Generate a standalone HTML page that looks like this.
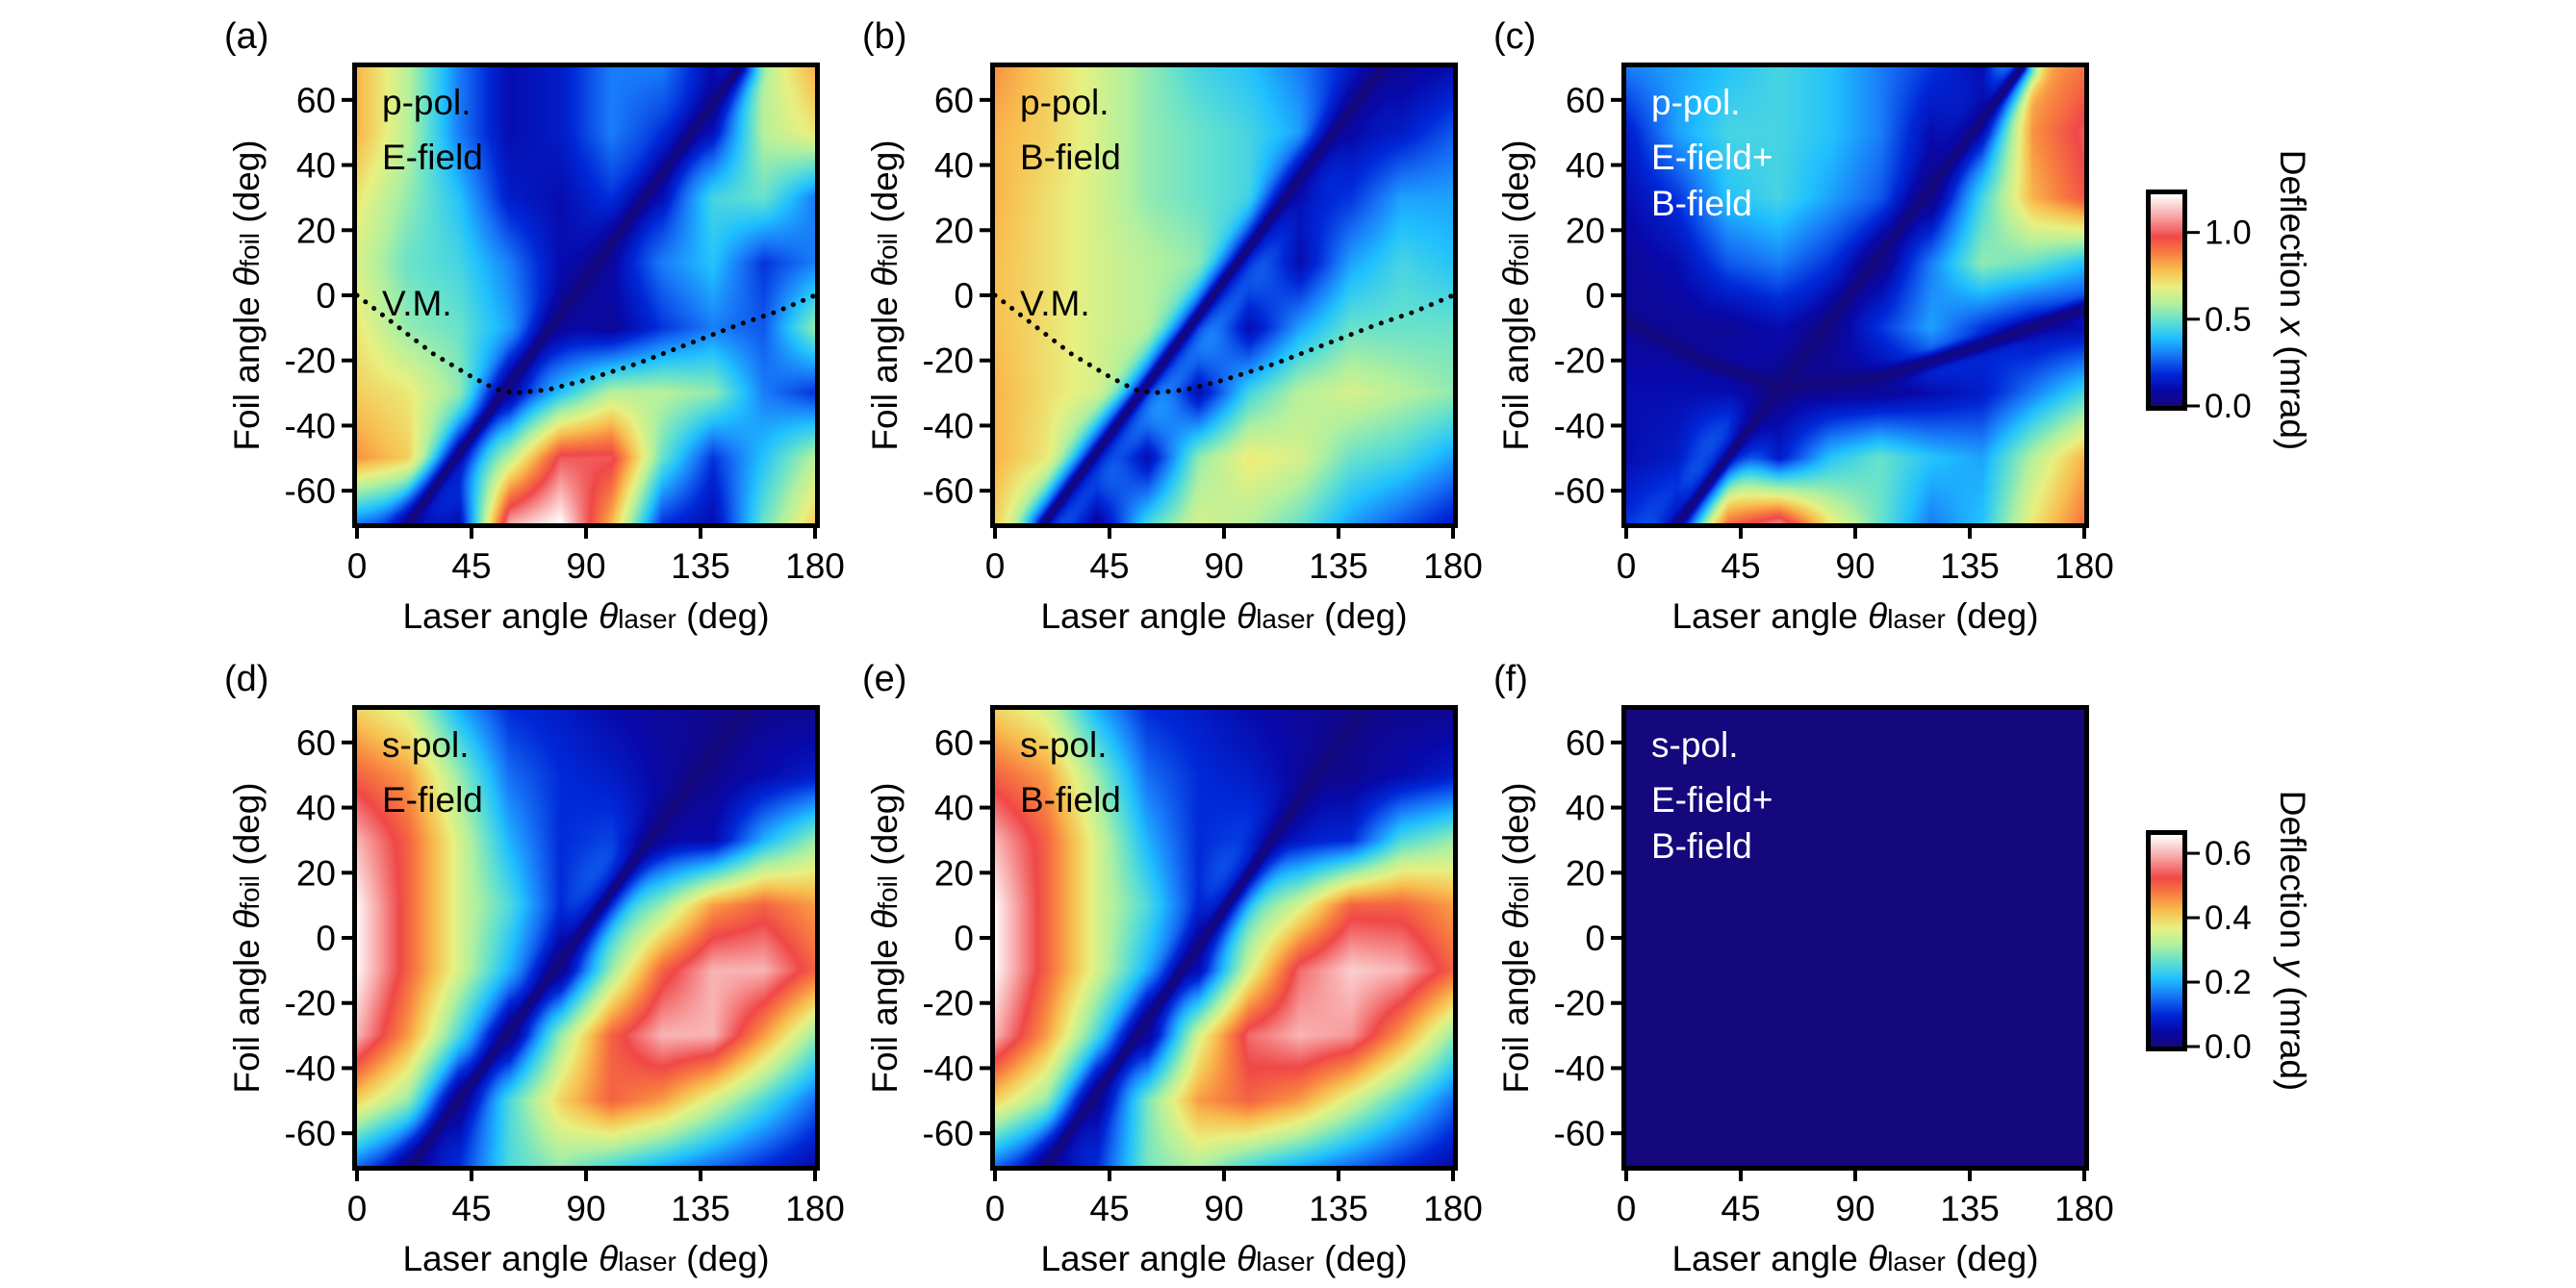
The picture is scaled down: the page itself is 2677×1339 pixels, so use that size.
<!DOCTYPE html>
<html><head><meta charset="utf-8">
<style>
html,body{margin:0;padding:0;background:#fff;}
#root{position:relative;width:2677px;height:1339px;overflow:hidden;background:#fff;font-family:"Liberation Sans",Arial,sans-serif;}
canvas{position:absolute;}
svg{position:absolute;left:0;top:0;}
</style></head>
<body>
<div id="root">
<canvas id="ca"></canvas>
<canvas id="cb"></canvas>
<canvas id="cc"></canvas>
<canvas id="cd"></canvas>
<canvas id="ce"></canvas>
<canvas id="cf"></canvas>
<canvas id="cbar1"></canvas>
<canvas id="cbar2"></canvas>
<svg id="ov" width="2677" height="1339"></svg>
</div>
<script>
// ---- data ----
const laserCats = [0,20,40,60,80,100,120,140,160,180];
const foilRows = [70,50,30,10,-10,-30,-50,-70];
const xTicks = [0,45,90,135,180];
const yTicks = [60,40,20,0,-20,-40,-60];
const cbarTicksX = [0.0,0.5,1.0];
const cbarTicksY = [0.0,0.2,0.4,0.6];
const valsA = [
 [0.80,0.60,0.30,0.10,0.15,0.30,0.30,0.10,0.60,0.80],
 [0.80,0.60,0.30,0.10,0.15,0.30,0.20,0.15,0.60,0.70],
 [0.70,0.55,0.40,0.15,0.10,0.20,0.15,0.45,0.50,0.30],
 [0.65,0.50,0.45,0.30,0.10,0.10,0.30,0.40,0.20,0.30],
 [0.70,0.55,0.50,0.35,0.10,0.05,0.20,0.30,0.25,0.55],
 [0.75,0.70,0.55,0.15,0.40,0.60,0.60,0.55,0.30,0.20],
 [0.85,0.75,0.30,0.60,1.00,1.00,0.50,0.20,0.40,0.60],
 [0.30,0.20,0.10,1.10,1.22,0.80,0.20,0.10,0.50,0.75]];
const valsB = [
 [0.85,0.75,0.65,0.55,0.45,0.40,0.30,0.15,0.05,0.10],
 [0.80,0.75,0.65,0.55,0.50,0.45,0.35,0.10,0.15,0.25],
 [0.80,0.72,0.65,0.55,0.50,0.45,0.15,0.20,0.35,0.35],
 [0.78,0.72,0.65,0.60,0.55,0.35,0.10,0.35,0.45,0.40],
 [0.78,0.72,0.65,0.60,0.45,0.10,0.35,0.50,0.50,0.50],
 [0.80,0.72,0.65,0.50,0.10,0.45,0.60,0.65,0.60,0.55],
 [0.80,0.70,0.40,0.10,0.55,0.70,0.65,0.50,0.45,0.35],
 [0.75,0.45,0.05,0.45,0.65,0.60,0.50,0.35,0.25,0.15]];
const valsC = [
 [0.30,0.35,0.40,0.45,0.40,0.30,0.20,0.10,0.80,0.90],
 [0.15,0.35,0.45,0.45,0.40,0.30,0.10,0.20,0.85,1.00],
 [0.10,0.20,0.40,0.45,0.35,0.25,0.05,0.45,0.80,0.95],
 [0.05,0.10,0.25,0.30,0.20,0.05,0.30,0.55,0.50,0.40],
 [0.05,0.05,0.05,0.10,0.05,0.20,0.35,0.20,0.10,0.10],
 [0.10,0.10,0.10,0.05,0.05,0.05,0.10,0.15,0.30,0.45],
 [0.10,0.15,0.40,0.15,0.40,0.50,0.40,0.35,0.60,0.80],
 [0.20,0.30,0.90,1.05,0.70,0.50,0.30,0.40,0.70,0.90]];
const valsD = [
 [0.40,0.35,0.20,0.10,0.08,0.05,0.03,0.02,0.02,0.02],
 [0.50,0.45,0.30,0.15,0.10,0.08,0.04,0.02,0.05,0.08],
 [0.60,0.50,0.35,0.20,0.10,0.12,0.05,0.05,0.20,0.30],
 [0.65,0.50,0.35,0.25,0.10,0.20,0.30,0.45,0.50,0.45],
 [0.65,0.50,0.35,0.20,0.05,0.30,0.50,0.60,0.60,0.50],
 [0.60,0.45,0.25,0.05,0.30,0.50,0.60,0.60,0.45,0.30],
 [0.40,0.30,0.05,0.25,0.40,0.50,0.45,0.35,0.25,0.15],
 [0.15,0.05,0.10,0.25,0.30,0.25,0.20,0.15,0.10,0.05]];
const valsE = [
 [0.40,0.35,0.20,0.10,0.08,0.05,0.03,0.02,0.02,0.02],
 [0.50,0.45,0.30,0.15,0.10,0.08,0.04,0.02,0.05,0.08],
 [0.60,0.50,0.35,0.20,0.10,0.12,0.08,0.10,0.25,0.30],
 [0.65,0.50,0.35,0.25,0.10,0.25,0.35,0.50,0.50,0.45],
 [0.65,0.50,0.35,0.20,0.08,0.35,0.55,0.62,0.60,0.50],
 [0.60,0.45,0.25,0.05,0.35,0.55,0.60,0.58,0.45,0.30],
 [0.40,0.30,0.05,0.28,0.45,0.50,0.45,0.35,0.25,0.15],
 [0.15,0.05,0.10,0.28,0.32,0.25,0.20,0.15,0.10,0.05]];
const valsF = [
 [0,0,0,0,0,0,0,0,0,0],[0,0,0,0,0,0,0,0,0,0],[0,0,0,0,0,0,0,0,0,0],[0,0,0,0,0,0,0,0,0,0],
 [0,0,0,0,0,0,0,0,0,0],[0,0,0,0,0,0,0,0,0,0],[0,0,0,0,0,0,0,0,0,0],[0,0,0,0,0,0,0,0,0,0]];
// dark diagonal minimum line: laser angle at foil=-70 and foil=+70
const lineA = [20,150];
const lineB = [19,152];
const lineC = [20,155];
const lineD = [21,152];
const lineE = [20,144];
// dark curve in panel c (laser, foil)
const curveC = [[0,-8],[30,-20],[60,-28],[100,-25],[140,-15],[180,-4]];
// V.M. dotted curve (laser, foil)
const vmCurve = [[0,0],[15,-9],[30,-18],[45,-25],[55,-29],[62,-30],[75,-29],[90,-26],[110,-21],[130,-15],[150,-9],[165,-5],[180,0]];

const cmap = [[0,'#14087c'],[0.07,'#0808a8'],[0.15,'#0028d8'],[0.24,'#1878f8'],[0.32,'#20c0ff'],[0.40,'#60e0d0'],[0.48,'#b0f0a0'],[0.56,'#e8f080'],[0.64,'#f8c050'],[0.72,'#f88040'],[0.80,'#f04848'],[0.90,'#f8a8a8'],[1,'#ffffff']];
const stops = cmap.map(s=>[s[0],parseInt(s[1].slice(1,3),16),parseInt(s[1].slice(3,5),16),parseInt(s[1].slice(5,7),16)]);
function col(t){t=Math.max(0,Math.min(1,t));for(let i=1;i<stops.length;i++){if(t<=stops[i][0]){const a=stops[i-1],b=stops[i];const f=(t-a[0])/(b[0]-a[0]);return [a[1]+(b[1]-a[1])*f,a[2]+(b[2]-a[2])*f,a[3]+(b[3]-a[3])*f];}}return [255,255,255];}

const W=476,H=474;
const lefts=[371,1034,1690], tops=[70,738];
function xs(left,deg){return left+deg/180*W;}
function ys(top,foil){return top+(70-foil)/140*H;}

function segDist(px,py,ax,ay,bx,by){const dx=bx-ax,dy=by-ay;let t=((px-ax)*dx+(py-ay)*dy)/(dx*dx+dy*dy);t=Math.max(0,Math.min(1,t));const qx=ax+t*dx-px,qy=ay+t*dy-py;return Math.sqrt(qx*qx+qy*qy);}

function drawHeat(id,left,top,vals,vmax,line,curve){
  const c=document.getElementById(id);c.width=W;c.height=H;c.style.left=left+'px';c.style.top=top+'px';
  const ctx=c.getContext('2d');const img=ctx.createImageData(W,H);
  const nx=laserCats.length,ny=foilRows.length;
  let curvePx=null;if(curve){curvePx=curve.map(p=>[p[0]/180*W,(70-p[1])/140*H]);}
  for(let py=0;py<H;py++){for(let px=0;px<W;px++){
    const gx=(px/(W-1))*(nx-1), gy=(py/(H-1))*(ny-1);
    const i0=Math.min(nx-2,Math.floor(gx)),j0=Math.min(ny-2,Math.floor(gy));
    const fx=gx-i0,fy=gy-j0;
    let v=vals[j0][i0]*(1-fx)*(1-fy)+vals[j0][i0+1]*fx*(1-fy)+vals[j0+1][i0]*(1-fx)*fy+vals[j0+1][i0+1]*fx*fy;
    if(line){const d=segDist(px,py,line[0]/180*W,H,line[1]/180*W,0);v*=1-0.6*Math.exp(-(d*d)/(18*18));v*=1-Math.exp(-(d*d)/(5*5));}
    if(curvePx){let d=1e9;for(let k=1;k<curvePx.length;k++){d=Math.min(d,segDist(px,py,curvePx[k-1][0],curvePx[k-1][1],curvePx[k][0],curvePx[k][1]));}v*=1-0.95*Math.exp(-(d*d)/(8*8));}
    const cc=col(v/vmax);const o=(py*W+px)*4;img.data[o]=cc[0];img.data[o+1]=cc[1];img.data[o+2]=cc[2];img.data[o+3]=255;}}
  ctx.putImageData(img,0,0);
}
drawHeat('ca',lefts[0],tops[0],valsA,1.22,lineA,null);
drawHeat('cb',lefts[1],tops[0],valsB,1.22,lineB,null);
drawHeat('cc',lefts[2],tops[0],valsC,1.22,lineC,curveC);
drawHeat('cd',lefts[0],tops[1],valsD,0.657,lineD,null);
drawHeat('ce',lefts[1],tops[1],valsE,0.657,lineE,null);
drawHeat('cf',lefts[2],tops[1],valsF,0.657,null,null);

function drawBar(id,top){const c=document.getElementById(id);const bw=33,bh=220;c.width=bw;c.height=bh;c.style.left='2235px';c.style.top=(top+5)+'px';
  const ctx=c.getContext('2d');for(let y=0;y<bh;y++){const cc=col(1-y/(bh-1));ctx.fillStyle='rgb('+cc.map(Math.round).join(',')+')';ctx.fillRect(0,y,bw,1);}}
drawBar('cbar1',197);drawBar('cbar2',863);

const NS='http://www.w3.org/2000/svg';const ov=document.getElementById('ov');
function mk(tag,attrs,parent){const e=document.createElementNS(NS,tag);for(const k in attrs)e.setAttribute(k,attrs[k]);(parent||ov).appendChild(e);return e;}

const panelLetters=['a','b','c','d','e','f'];
const innerText=[['p-pol.','E-field'],['p-pol.','B-field'],['p-pol.','E-field+','B-field'],['s-pol.','E-field'],['s-pol.','B-field'],['s-pol.','E-field+','B-field']];
for(let p=0;p<6;p++){
  const left=lefts[p%3],top=tops[Math.floor(p/3)];const L=panelLetters[p];
  const g=mk('g',{});
  
  
  const fr=mk('rect',{x:left-2.5,y:top-2.5,width:W+5,height:H+5,fill:'none',stroke:'#000','stroke-width':5},g);
  
  
  for(const t of xTicks){const x=xs(left,t);
    const tk=mk('line',{x1:x,x2:x,y1:top+H+2,y2:top+H+16,stroke:'#000','stroke-width':4},g);
    
    
    const tl=mk('text',{x:x,y:top+H+57,'font-size':37,'text-anchor':'middle',fill:'#000'},g);tl.textContent=t;
    
    }
  for(const t of yTicks){const y=ys(top,t);
    const tk=mk('line',{x1:left-16,x2:left-2,y1:y,y2:y,stroke:'#000','stroke-width':4},g);
    
    
    const tl=mk('text',{x:left-22,y:y+13,'font-size':37,'text-anchor':'end',fill:'#000'},g);tl.textContent=t;
    
    }
  const xt=mk('text',{x:left+W/2,y:top+H+109,'font-size':37,'text-anchor':'middle',fill:'#000'},g);
  xt.innerHTML='Laser angle <tspan font-style="italic">θ</tspan><tspan font-size="28">laser</tspan> (deg)';
  
  
  const yt=mk('text',{x:0,y:0,'font-size':37,'text-anchor':'middle',fill:'#000',transform:'translate('+(left-102)+','+(top+H/2)+') rotate(-90)'},g);
  yt.innerHTML='Foil angle <tspan font-style="italic">θ</tspan><tspan font-size="28">foil</tspan> (deg)';
  
  
  const pl=mk('text',{x:left-138,y:top-20,'font-size':38,fill:'#000'},g);pl.textContent='('+L+')';
  
  
  const white=(p===2||p===5);
  const yoffs=[49,106,154];
  innerText[p].forEach((s,i)=>{const t=mk('text',{x:left+26,y:top+yoffs[i],'font-size':37,fill:white?'#fff':'#000'},g);t.textContent=s;
    
    });
  if(p<2){
    const pts=vmCurve.map(q=>xs(left,q[0]).toFixed(1)+','+ys(top,q[1]).toFixed(1)).join(' ');
    const vm=mk('polyline',{points:pts,fill:'none',stroke:'#000','stroke-width':5,'stroke-dasharray':'0.1 11','stroke-linecap':'round'},g);
    
    
    const vt=mk('text',{x:left+26,y:top+258,'font-size':37,fill:'#000'},g);vt.textContent='V.M.';
    
    
  }
}
// colorbars
function bar(top,vmax,ticks,label,name){
  const g=mk('g',{});
  
  
  mk('rect',{x:2232.5,y:top+2.5,width:38,height:225,fill:'none',stroke:'#000','stroke-width':5},g);
  const y0=top+225,sc=220/vmax;
  for(const t of ticks){const y=y0-t*sc;
    const tk=mk('line',{x1:2273,x2:2286,y1:y,y2:y,stroke:'#000','stroke-width':3},g);
    
    
    const tl=mk('text',{x:2291,y:y+12,'font-size':35,fill:'#000'},g);tl.textContent=t.toFixed(1);
    
    }
  const tt=mk('text',{x:0,y:0,'font-size':37,'text-anchor':'middle',fill:'#000',transform:'translate(2370,'+(top+115)+') rotate(90)'},g);
  tt.innerHTML=label;
  
  
}
bar(197,1.22,cbarTicksX,'Deflection <tspan font-style="italic">x</tspan> (mrad)','colorbar-x-axis');
bar(863,0.657,cbarTicksY,'Deflection <tspan font-style="italic">y</tspan> (mrad)','colorbar-y-axis');
</script>
</body></html>
